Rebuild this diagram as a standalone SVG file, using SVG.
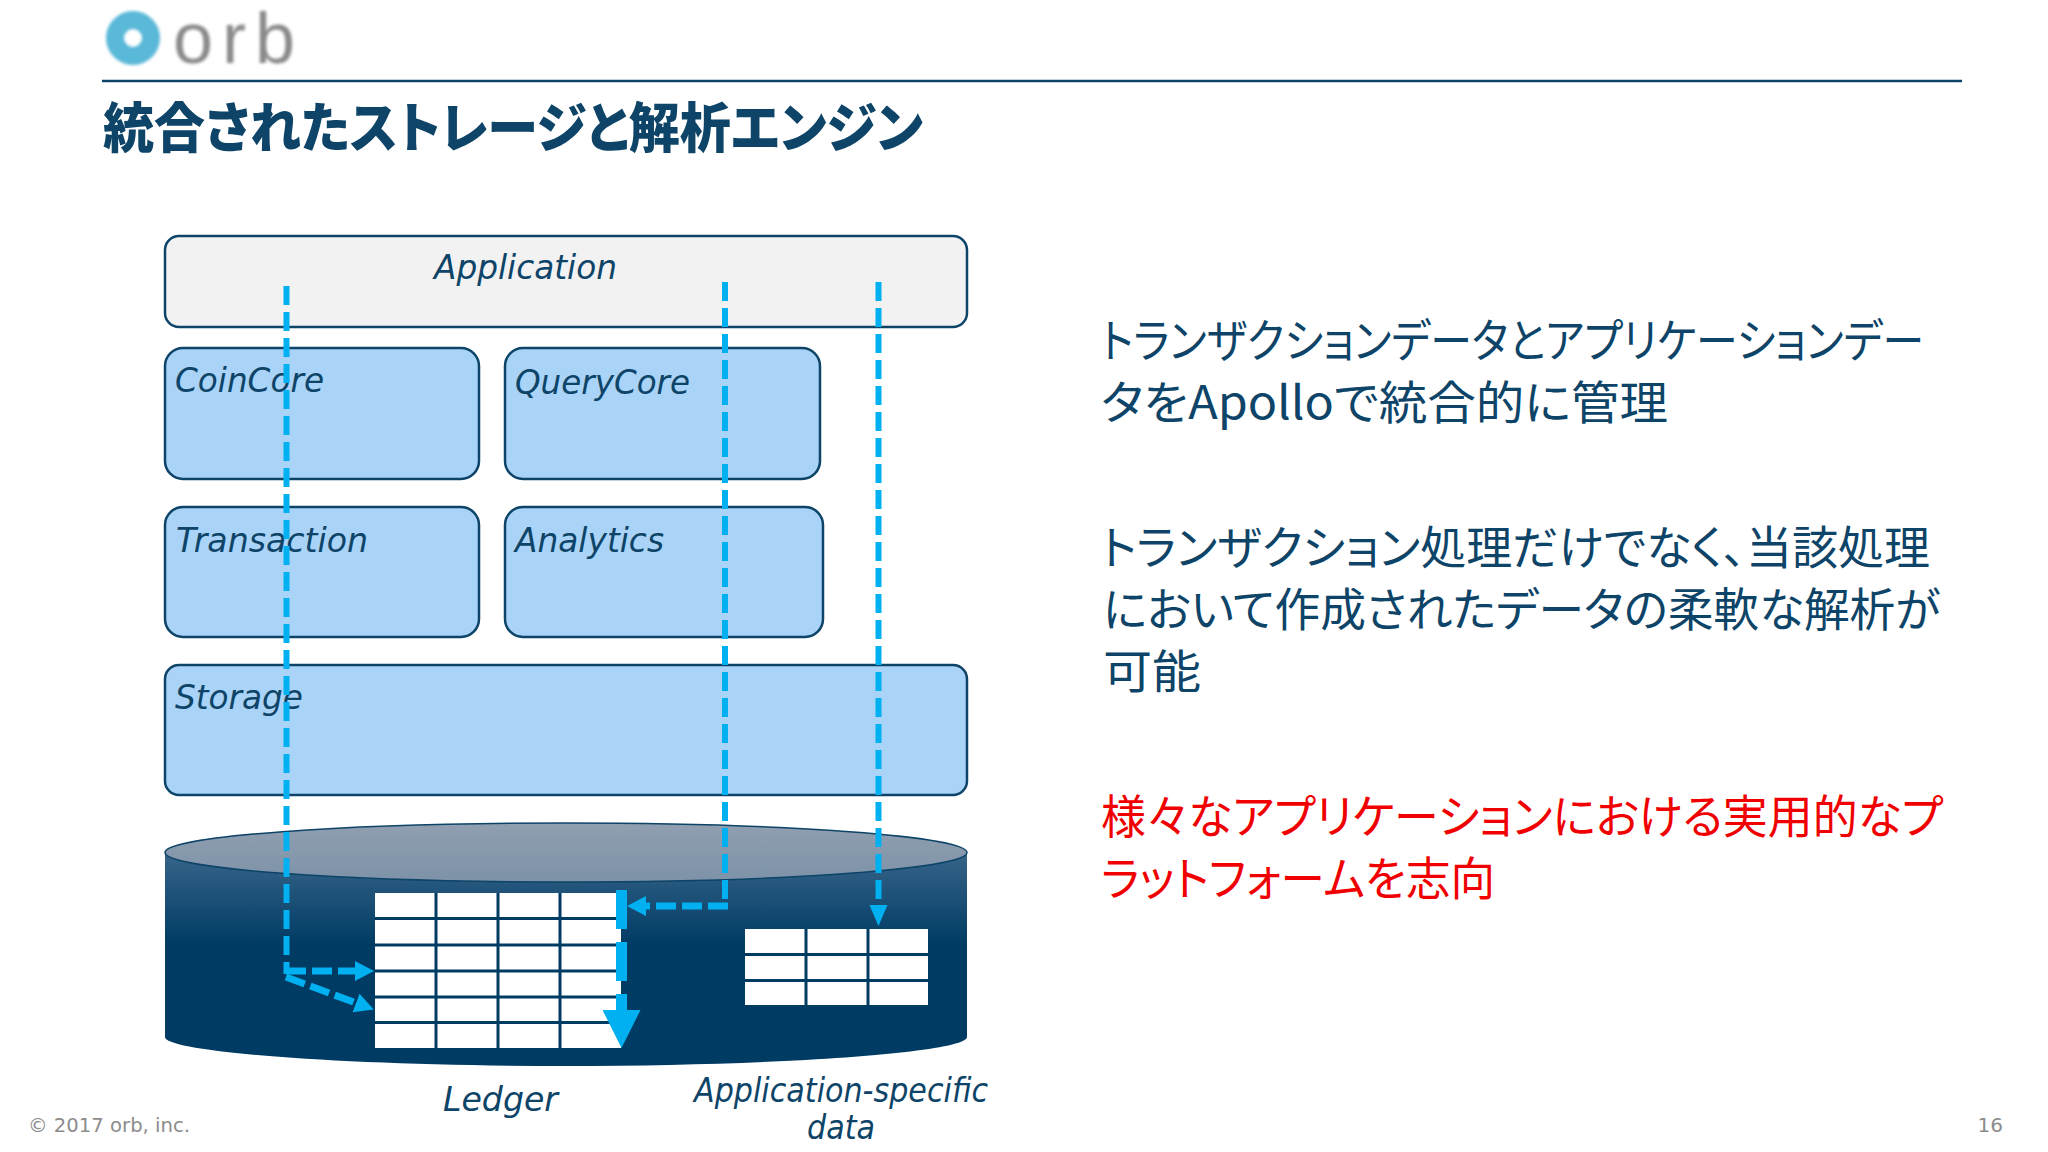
<svg xmlns="http://www.w3.org/2000/svg" width="2048" height="1152" viewBox="0 0 2048 1152">
<style>
.box{stroke:#0d4468;stroke-width:2.5}
.blue{fill:#a9d3f7}
.lbl{font-family:"DejaVu Sans",Verdana,sans-serif;font-style:italic;font-size:33px;fill:#0d4468}
.cjk{font-family:"Noto Sans CJK JP",sans-serif;font-size:46px;font-weight:400;fill:#0d4468;font-feature-settings:"palt"}
.red{fill:#f00000}
.foot{font-family:"DejaVu Sans",Verdana,sans-serif;font-size:20px;fill:#8c8c8c}
.cell{stroke:#003b64;stroke-width:3;fill:none}
.dash{fill:none;stroke:#00b0f0;stroke-width:6;stroke-dasharray:19 7}
.dash2{fill:none;stroke:#00b0f0;stroke-width:7;stroke-dasharray:20 6}
</style>
<defs>
<linearGradient id="body" x1="0" y1="852" x2="0" y2="945" gradientUnits="userSpaceOnUse"><stop offset="0" stop-color="#38658a"/><stop offset="1" stop-color="#003b64"/></linearGradient>
<linearGradient id="lid" x1="0" y1="0" x2="0" y2="1"><stop offset="0" stop-color="#909fb0"/><stop offset="1" stop-color="#7d92a8"/></linearGradient>
<filter id="soft" x="-10%" y="-10%" width="120%" height="120%"><feGaussianBlur stdDeviation="1.800"/></filter>
<marker id="h1" markerUnits="userSpaceOnUse" markerWidth="20" markerHeight="22" refX="0" refY="11" orient="auto"><path d="M0 1L19 11L0 21Z" fill="#00b0f0"/></marker>
<marker id="h2" markerUnits="userSpaceOnUse" markerWidth="22" markerHeight="20" refX="0" refY="10" orient="auto"><path d="M0 1L21 10L0 19Z" fill="#00b0f0"/></marker>
<marker id="h3" markerUnits="userSpaceOnUse" markerWidth="38" markerHeight="38" refX="0" refY="19" orient="auto"><path d="M0 0L38 19L0 38Z" fill="#00b0f0"/></marker>
</defs>
<rect width="2048" height="1152" fill="#ffffff"/>
<g id="logo" filter="url(#soft)">
<circle cx="133" cy="38" r="18" fill="none" stroke="#5ab8d8" stroke-width="18"/>
<text x="173" y="63" font-family="Liberation Sans, sans-serif" font-size="72" letter-spacing="9" fill="#8a8a8a">orb</text>
</g>
<line x1="102" y1="81" x2="1962" y2="81" stroke="#0d4468" stroke-width="2.500"/>
<text id="title" x="103" y="148" font-family="Noto Sans CJK JP, sans-serif" font-weight="900" font-size="54" fill="#0d4468" style="font-feature-settings:'palt'" textLength="820" lengthAdjust="spacingAndGlyphs">統合されたストレージと解析エンジン</text>
<g id="application"><rect class="box" x="165" y="236" width="802" height="91" rx="14" fill="#f2f2f3"/><text class="lbl" x="434" y="279" textLength="183" lengthAdjust="spacingAndGlyphs">Application</text></g>
<g id="coincore"><rect class="box blue" x="165" y="348" width="314" height="131" rx="18"/><text class="lbl" x="175" y="392" textLength="149" lengthAdjust="spacingAndGlyphs">CoinCore</text></g>
<g id="querycore"><rect class="box blue" x="505" y="348" width="315" height="131" rx="18"/><text class="lbl" x="515" y="394" textLength="175" lengthAdjust="spacingAndGlyphs">QueryCore</text></g>
<g id="transaction"><rect class="box blue" x="165" y="507" width="314" height="130" rx="18"/><text class="lbl" x="176" y="552" textLength="192" lengthAdjust="spacingAndGlyphs">Transaction</text></g>
<g id="analytics"><rect class="box blue" x="505" y="507" width="318" height="130" rx="18"/><text class="lbl" x="515" y="552" textLength="149" lengthAdjust="spacingAndGlyphs">Analytics</text></g>
<g id="storage"><rect class="box blue" x="165" y="665" width="802" height="130" rx="14"/><text class="lbl" x="175" y="709" textLength="128" lengthAdjust="spacingAndGlyphs">Storage</text></g>
<g id="ledger-store">
<path d="M165 853V1037C165 1052 345 1066 566 1066S967 1052 967 1037V853Z" fill="url(#body)"/>
<ellipse cx="566" cy="852.500" rx="401" ry="29.500" fill="url(#lid)" stroke="#0d4468" stroke-width="1.500"/>
</g>
<g id="ledger-table">
<rect x="375" y="893" width="246" height="155" fill="#ffffff"/>
<path class="cell" d="M436 893V1048M498 893V1048M560 893V1048M375 918.500H621M375 945H621M375 971H621M375 997H621M375 1022.500H621"/>
</g>
<g id="app-table">
<rect x="745" y="929" width="183" height="76" fill="#ffffff"/>
<path class="cell" d="M806 929V1005M868 929V1005M745 954.500H928M745 980.500H928"/>
</g>
<g id="connectors">
<path class="dash" d="M286.500 286V974"/>
<path class="dash2" d="M286 971H355" marker-end="url(#h1)"/>
<path class="dash2" d="M286 977L356 1003" marker-end="url(#h1)"/>
<path class="dash" d="M725 282V906"/>
<path class="dash2" d="M728 906H646" marker-end="url(#h1)"/>
<path class="dash" d="M878.500 282V905" marker-end="url(#h2)"/>
<path d="M621.500 890V1010" fill="none" stroke="#00b0f0" stroke-width="11" stroke-dasharray="39 13" marker-end="url(#h3)"/>
</g>
<g id="captions">
<text class="lbl" x="443" y="1111" textLength="115" lengthAdjust="spacingAndGlyphs">Ledger</text>
<text class="lbl" x="694" y="1102" textLength="294" lengthAdjust="spacingAndGlyphs">Application-specific</text>
<text class="lbl" x="807" y="1139" textLength="68" lengthAdjust="spacingAndGlyphs">data</text>
</g>
<g id="body-text">
<text class="cjk" x="1101" y="357" textLength="823" lengthAdjust="spacingAndGlyphs">トランザクションデータとアプリケーションデー</text>
<text class="cjk" x="1101" y="419" textLength="567" lengthAdjust="spacingAndGlyphs">タをApolloで統合的に管理</text>
<text class="cjk" x="1101" y="564" textLength="829" lengthAdjust="spacingAndGlyphs">トランザクション処理だけでなく、当該処理</text>
<text class="cjk" x="1103" y="626" textLength="837" lengthAdjust="spacingAndGlyphs">において作成されたデータの柔軟な解析が</text>
<text class="cjk" x="1103" y="688" textLength="98" lengthAdjust="spacingAndGlyphs">可能</text>
<text class="cjk red" x="1101" y="833" textLength="842" lengthAdjust="spacingAndGlyphs">様々なアプリケーションにおける実用的なプ</text>
<text class="cjk red" x="1101" y="895" textLength="394" lengthAdjust="spacingAndGlyphs">ラットフォームを志向</text>
</g>
<g id="footer">
<text class="foot" x="28" y="1132" textLength="162" lengthAdjust="spacingAndGlyphs">© 2017 orb, inc.</text>
<text class="foot" x="2003" y="1132" text-anchor="end">16</text>
</g>
</svg>
